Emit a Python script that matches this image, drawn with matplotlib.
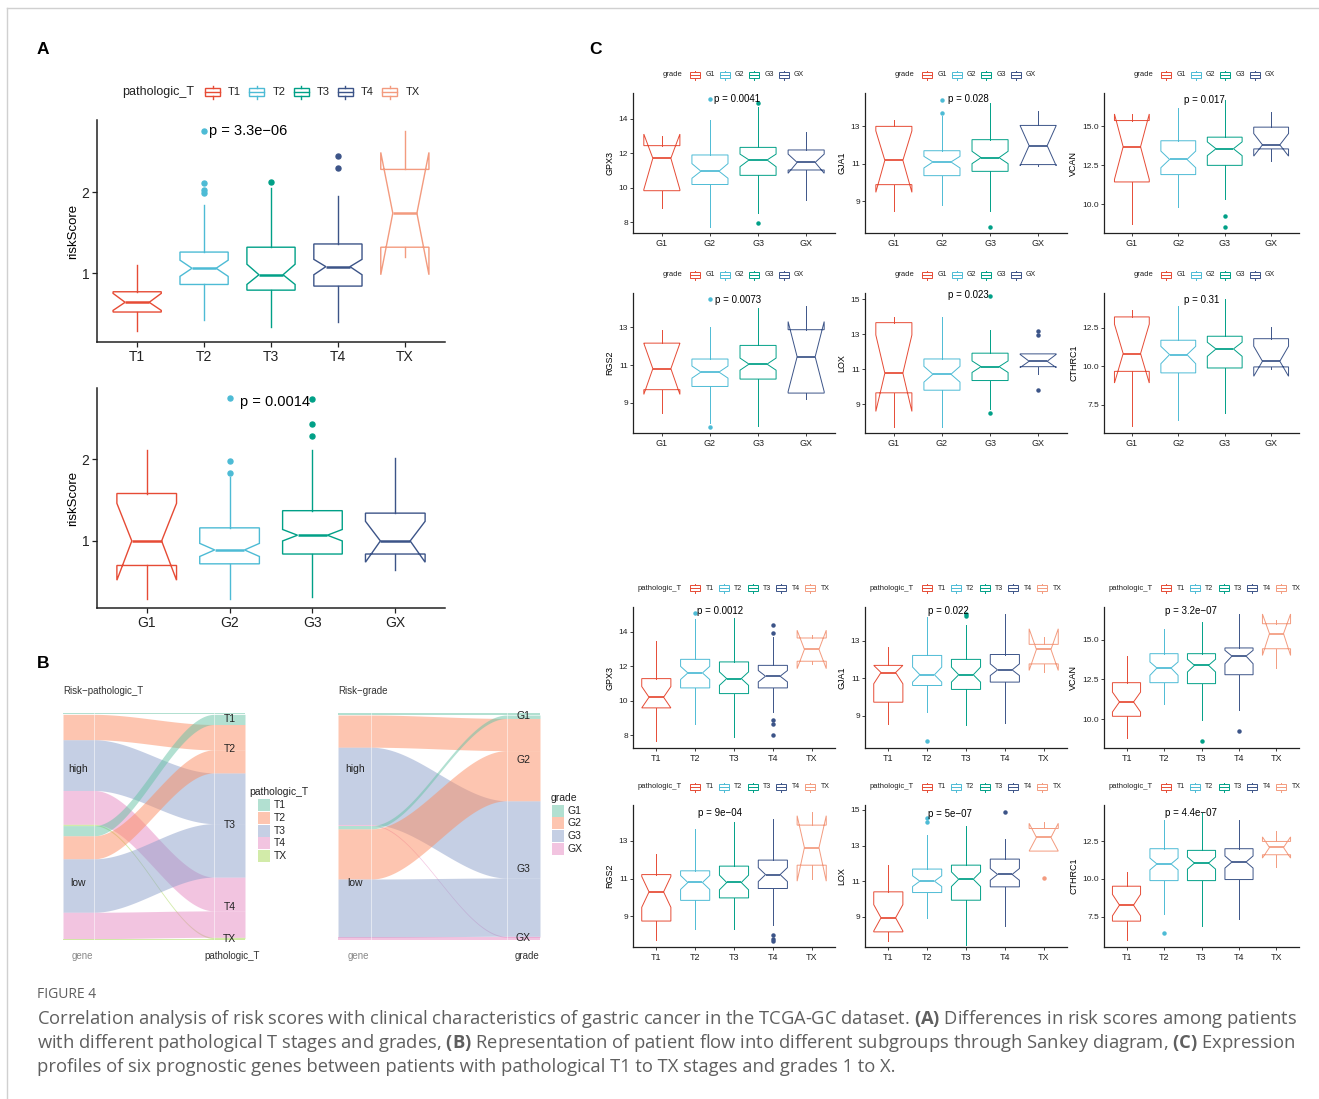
import numpy as np
import matplotlib
matplotlib.use('Agg')
import matplotlib.pyplot as plt
from matplotlib.patches import Rectangle

plt.rcParams['font.family'] = ['Liberation Sans', 'DejaVu Sans']
plt.rcParams['mathtext.fontset'] = 'custom'
plt.rcParams['mathtext.rm'] = 'Open Sans'
plt.rcParams['mathtext.bf'] = 'Open Sans:bold'

# ---------------- DATA ----------------
T_CATS = ['T1', 'T2', 'T3', 'T4', 'TX']
G_CATS = ['G1', 'G2', 'G3', 'GX']
NPG = ['#E64B35', '#4DBBD5', '#00A087', '#3C5488', '#F39B7F']
SET2 = ['#66C2A5', '#FC8D62', '#8DA0CB', '#E78AC3', '#A6D854']

# box stats per group: whislo, q1, median, q3, whishi, notch_lo, notch_hi
A_T_BOX = [[0.28, 0.52, 0.64, 0.77, 1.10, 0.54, 0.75],
           [0.42, 0.86, 1.06, 1.26, 1.84, 0.96, 1.16],
           [0.33, 0.79, 0.98, 1.32, 2.05, 0.86, 1.11],
           [0.40, 0.84, 1.08, 1.36, 1.95, 0.98, 1.17],
           [1.20, 1.32, 1.74, 2.28, 2.76, 0.98, 2.49]]
A_T_OUT = [[], [2.76, 2.11, 2.02, 1.99], [2.12], [2.44, 2.30], []]
A_T_P = 'p = 3.3e\u221206'

A_G_BOX = [[0.29, 0.70, 1.00, 1.58, 2.11, 0.52, 1.46],
           [0.29, 0.72, 0.89, 1.16, 1.78, 0.81, 0.97],
           [0.32, 0.84, 1.07, 1.37, 2.11, 1.00, 1.14],
           [0.65, 0.84, 1.00, 1.34, 2.01, 0.74, 1.24]]
A_G_OUT = [[], [2.75, 1.98, 1.83], [2.74, 2.43, 2.28], []]
A_G_P = 'p = 0.0014'

GPX3_G_BOX = [[8.81, 9.83, 11.71, 12.44, 13.00, 9.90, 13.11],
              [7.75, 10.19, 10.96, 11.90, 13.92, 10.55, 11.40],
              [8.52, 10.72, 11.61, 12.34, 14.70, 11.22, 11.95],
              [9.29, 11.03, 11.47, 12.19, 13.25, 10.84, 11.95]]
GPX3_G_OUT = [[], [15.14], [14.89, 7.96], []]
GJA1_G_BOX = [[8.46, 9.88, 11.18, 12.99, 13.31, 9.47, 12.75],
              [8.78, 10.36, 11.09, 11.69, 13.52, 10.77, 11.39],
              [8.46, 10.59, 11.32, 12.28, 14.24, 11.00, 11.66],
              [10.90, 10.95, 11.96, 13.04, 13.79, 10.89, 13.03]]
GJA1_G_OUT = [[], [14.41, 13.70], [7.60], []]
VCAN_G_BOX = [[8.75, 11.44, 13.69, 15.36, 15.78, 11.60, 15.78],
              [9.85, 11.91, 12.88, 14.07, 16.17, 12.35, 13.41],
              [10.34, 12.50, 13.56, 14.30, 16.69, 13.12, 14.00],
              [12.78, 13.55, 13.81, 14.94, 15.91, 13.09, 14.53]]
VCAN_G_OUT = [[], [], [9.28, 8.58], []]
RGS2_G_BOX = [[8.46, 9.70, 10.81, 12.16, 12.87, 9.45, 12.15],
              [7.93, 9.87, 10.63, 11.32, 12.99, 10.31, 10.95],
              [7.76, 10.26, 11.05, 12.04, 14.01, 10.73, 11.37],
              [9.20, 9.52, 11.44, 12.87, 14.14, 9.60, 13.30]]
RGS2_G_OUT = [[], [14.51, 7.72], [], []]
LOX_G_BOX = [[7.73, 9.66, 10.78, 13.66, 13.97, 8.60, 12.96],
             [7.70, 9.81, 10.72, 11.59, 13.97, 10.27, 11.17],
             [8.75, 10.36, 11.15, 11.92, 13.26, 10.82, 11.48],
             [10.72, 11.15, 11.46, 11.88, 11.88, 11.10, 11.85]]
LOX_G_OUT = [[], [], [15.20, 8.52], [13.20, 12.98, 9.81]]
CTHRC1_G_BOX = [[6.09, 9.67, 10.83, 13.22, 13.70, 8.91, 12.75],
                [6.52, 9.57, 10.76, 11.70, 13.91, 10.17, 11.30],
                [6.96, 9.89, 11.13, 11.96, 14.39, 10.65, 11.57],
                [9.80, 9.96, 10.33, 11.80, 12.54, 9.35, 11.31]]
CTHRC1_G_OUT = [[], [], [], []]

GPX3_T_BOX = [[7.65, 9.59, 10.21, 11.29, 13.46, 9.59, 10.83],
              [8.68, 10.75, 11.62, 12.41, 14.77, 11.24, 12.00],
              [7.90, 10.42, 11.29, 12.26, 14.81, 10.90, 11.68],
              [9.35, 10.75, 11.43, 12.06, 13.71, 11.10, 11.76],
              [12.16, 12.30, 12.99, 13.65, 13.84, 11.87, 14.10]]
GPX3_T_OUT = [[], [15.10], [], [14.43, 13.96, 8.87, 8.64, 8.00], []]
GJA1_T_BOX = [[8.56, 9.72, 11.30, 11.68, 12.65, 10.70, 11.68],
              [9.19, 10.61, 11.18, 12.21, 14.25, 10.79, 11.59],
              [8.48, 10.40, 11.18, 12.00, 13.84, 10.79, 11.59],
              [8.60, 10.79, 11.44, 12.26, 14.43, 11.14, 11.76],
              [11.32, 11.76, 12.53, 12.80, 13.19, 11.41, 13.63]]
GJA1_T_OUT = [[], [7.64], [14.43, 14.31], [], []]
VCAN_T_BOX = [[8.82, 10.18, 11.08, 12.29, 13.96, 10.45, 11.70],
              [10.97, 12.29, 13.21, 14.11, 15.68, 12.75, 13.59],
              [9.93, 12.23, 13.38, 14.11, 16.10, 12.96, 13.76],
              [10.55, 12.79, 13.96, 14.47, 16.62, 13.48, 14.32],
              [13.21, 14.42, 15.37, 15.99, 16.20, 14.00, 16.60]]
VCAN_T_OUT = [[], [], [8.63], [9.26], []]
RGS2_T_BOX = [[7.71, 8.74, 10.29, 11.21, 12.28, 9.47, 11.11],
              [8.33, 9.84, 10.79, 11.41, 13.63, 10.42, 11.16],
              [8.33, 9.97, 10.79, 11.66, 14.02, 10.40, 11.18],
              [8.51, 10.47, 11.21, 11.98, 14.15, 10.84, 11.58],
              [11.00, 11.71, 12.64, 13.84, 14.52, 10.86, 14.34]]
RGS2_T_OUT = [[], [], [], [7.98, 7.80, 7.68], []]
LOX_T_BOX = [[7.64, 8.15, 8.94, 10.40, 11.90, 8.20, 9.68],
             [8.94, 10.36, 11.00, 11.68, 13.59, 10.70, 11.30],
             [7.44, 9.93, 11.11, 11.90, 14.11, 10.70, 11.52],
             [8.49, 10.68, 11.38, 12.24, 13.35, 11.05, 11.71],
             [12.69, 12.69, 13.46, 13.96, 14.34, 12.69, 14.25]]
LOX_T_OUT = [[], [14.56, 14.30], [], [14.86], [11.15]]
CTHRC1_T_BOX = [[5.94, 7.21, 8.27, 9.52, 10.44, 7.56, 8.98],
                [7.65, 9.89, 10.99, 12.00, 13.90, 10.60, 11.38],
                [6.89, 9.89, 11.05, 11.89, 14.34, 10.65, 11.45],
                [7.32, 9.96, 11.12, 12.00, 13.90, 10.72, 11.52],
                [10.77, 11.60, 12.08, 12.48, 13.18, 11.38, 12.78]]
CTHRC1_T_OUT = [[], [6.45], [], [], []]

P_GRADE = ['p = 0.0041', 'p = 0.028', 'p = 0.017', 'p = 0.0073', 'p = 0.023', 'p = 0.31']
P_T = ['p = 0.0012', 'p = 0.022', 'p = 3.2e\u221207', 'p = 9e\u221204', 'p = 5e\u221207', 'p = 4.4e\u221207']
GENES = ['GPX3', 'GJA1', 'VCAN', 'RGS2', 'LOX', 'CTHRC1']

# Sankey counts (high risk / low risk)
SK_T_HIGH = [4, 75, 150, 100, 4]
SK_T_LOW = [30, 68, 158, 78, 4]
SK_G_HIGH = [6, 95, 228, 3]
SK_G_LOW = [10, 148, 172, 8]

CAPTION_L1 = (r'Correlation analysis of risk scores with clinical characteristics of gastric cancer in the '
              r'TCGA-GC dataset. $\mathbf{(A)}$ Differences in risk scores among patients')
CAPTION_L2 = (r'with different pathological T stages and grades, $\mathbf{(B)}$ Representation of patient flow '
              r'into different subgroups through Sankey diagram, $\mathbf{(C)}$ Expression')
CAPTION_L3 = 'profiles of six prognostic genes between patients with pathological T1 to TX stages and grades 1 to X.'

# ---------------- FIGURE ----------------
W, H = 1319, 1099
fig = plt.figure(figsize=(W / 100, H / 100), dpi=100)
ov = fig.add_axes([0, 0, 1, 1])
ov.set_xlim(0, W)
ov.set_ylim(H, 0)
ov.axis('off')


def pax(x0, y0, x1, y1):
    a = fig.add_axes([x0 / W, 1 - y1 / H, (x1 - x0) / W, (y1 - y0) / H])
    a.patch.set_alpha(0)
    return a


def box_panel(ax, cats, colors, box, outs, ylim, yticks, ytl, ylabel, ptxt, ppos, small):
    lw = 0.7 if small else 1.0
    ms = 2.2 if small else 3.6
    width = 0.75 if small else 0.72
    for i, (b, o, c) in enumerate(zip(box, outs, colors)):
        st = dict(whislo=b[0], q1=b[1], med=b[2], q3=b[3], whishi=b[4],
                  cilo=b[5], cihi=b[6], fliers=np.array(o, dtype=float))
        ax.bxp([st], positions=[i], widths=width, shownotches=True, showcaps=False,
               patch_artist=True, manage_ticks=False,
               boxprops=dict(facecolor='white', edgecolor=c, linewidth=lw),
               whiskerprops=dict(color=c, linewidth=lw),
               medianprops=dict(color=c, linewidth=lw * 1.8),
               flierprops=dict(marker='o', markerfacecolor=c, markeredgecolor=c,
                               markersize=ms, linestyle='none'))
    ax.set_xlim(-0.6, len(cats) - 0.4)
    ax.set_ylim(*ylim)
    ax.set_xticks(range(len(cats)))
    ax.set_xticklabels(cats)
    ax.set_yticks(yticks)
    ax.set_yticklabels(ytl)
    for s in ['top', 'right']:
        ax.spines[s].set_visible(False)
    for s in ['left', 'bottom']:
        ax.spines[s].set_linewidth(0.9 if small else 1.1)
        ax.spines[s].set_color('#222222')
    if small:
        ax.tick_params(axis='y', labelsize=6, length=2, width=0.6, pad=1.5, colors='#222222')
        ax.tick_params(axis='x', labelsize=6.5, length=2, width=0.6, pad=2, colors='#222222')
        ax.set_ylabel(ylabel, fontsize=6.5, labelpad=3)
        ax.text(ppos[0], ppos[1], ptxt, ha='center', va='center', fontsize=7)
    else:
        ax.tick_params(axis='both', labelsize=10, length=3.5, width=0.9, pad=2, colors='#222222')
        ax.set_ylabel(ylabel, fontsize=9.5, labelpad=2)
        ax.text(ppos[0], ppos[1], ptxt, ha='center', va='center', fontsize=10.5)


def box_legend(x_title, y, title, labels, colors, x_first, spacing, gw, gh, fs, tfs, lw):
    ov.text(x_title, y, title, fontsize=tfs, ha='left', va='center', color='#222222')
    for i, (lab, c) in enumerate(zip(labels, colors)):
        gx = x_first + i * spacing
        ov.add_patch(Rectangle((gx, y - gh * 0.3), gw, gh * 0.6, fill=False, ec=c, lw=lw))
        ov.plot([gx, gx + gw], [y, y], color=c, lw=lw)
        ov.plot([gx + gw / 2] * 2, [y - gh / 2, y - gh * 0.3], color=c, lw=lw)
        ov.plot([gx + gw / 2] * 2, [y + gh * 0.3, y + gh / 2], color=c, lw=lw)
        ov.text(gx + gw + gw * 0.55, y, lab, fontsize=fs, ha='left', va='center', color='#222222')


# ---------- Panel A ----------
ov.text(37, 50, 'A', fontsize=12.5, fontweight='bold', ha='left', va='center')
axA1 = pax(97, 120, 445, 342)
box_panel(axA1, T_CATS, NPG, A_T_BOX, A_T_OUT, (0.15, 2.89), [1, 2], ['1', '2'],
          'riskScore', A_T_P, (1.66, 2.76), False)
box_legend(122, 92, 'pathologic_T', T_CATS, NPG, 205, 44.3, 15, 13, 8, 9, 1.0)

axA2 = pax(97, 388, 445, 608)
box_panel(axA2, G_CATS, NPG[:4], A_G_BOX, A_G_OUT, (0.18, 2.87), [1, 2], ['1', '2'],
          'riskScore', A_G_P, (1.55, 2.70), False)

# ---------- Panel C ----------
ov.text(589, 50, 'C', fontsize=12.5, fontweight='bold', ha='left', va='center')
COL_X = [(633, 835), (865, 1067), (1104, 1299)]
ROW_Y = [(93, 233), (293, 433), (607, 748), (805, 947)]
LEG_Y = [75, 275, 588, 787]
grade_boxes = [GPX3_G_BOX, GJA1_G_BOX, VCAN_G_BOX, RGS2_G_BOX, LOX_G_BOX, CTHRC1_G_BOX]
grade_outs = [GPX3_G_OUT, GJA1_G_OUT, VCAN_G_OUT, RGS2_G_OUT, LOX_G_OUT, CTHRC1_G_OUT]
t_boxes = [GPX3_T_BOX, GJA1_T_BOX, VCAN_T_BOX, RGS2_T_BOX, LOX_T_BOX, CTHRC1_T_BOX]
t_outs = [GPX3_T_OUT, GJA1_T_OUT, VCAN_T_OUT, RGS2_T_OUT, LOX_T_OUT, CTHRC1_T_OUT]
ylims_g = [(7.38, 15.49), (7.30, 14.77), (8.18, 17.12), (7.41, 14.81), (7.37, 15.35), (5.65, 14.78)]
ylims_t = [(7.26, 15.45), (7.28, 14.79), (8.19, 17.04), (7.36, 14.91), (7.30, 15.28), (5.50, 14.89)]
yt = [[8, 10, 12, 14], [9, 11, 13], [10, 12.5, 15], [9, 11, 13], [9, 11, 13, 15], [7.5, 10, 12.5]]
ytl = [['8', '10', '12', '14'], ['9', '11', '13'], ['10.0', '12.5', '15.0'], ['9', '11', '13'],
       ['9', '11', '13', '15'], ['7.5', '10.0', '12.5']]
ppos_g = [(1.56, 15.12), (1.55, 14.45), (1.56, 16.7), (1.59, 14.45), (1.55, 15.22), (1.50, 14.35)]
ppos_t = [(1.65, 15.2), (1.55, 14.56), (1.71, 16.77), (1.63, 14.47), (1.59, 14.75), (1.71, 14.34)]

for k in range(6):
    r, c = divmod(k, 3)
    x0, x1 = COL_X[c]
    y0, y1 = ROW_Y[r]
    ax = pax(x0, y0, x1, y1)
    box_panel(ax, G_CATS, NPG[:4], grade_boxes[k], grade_outs[k], ylims_g[k], yt[k], ytl[k],
              GENES[k], P_GRADE[k], ppos_g[k], True)
    box_legend(x0 + 30, LEG_Y[r], 'grade', G_CATS, NPG[:4], x0 + 57, 29.5, 10, 9, 5, 5.5, 0.7)
    y0, y1 = ROW_Y[r + 2]
    ax = pax(x0, y0, x1, y1)
    box_panel(ax, T_CATS, NPG, t_boxes[k], t_outs[k], ylims_t[k], yt[k], ytl[k],
              GENES[k], P_T[k], ppos_t[k], True)
    box_legend(x0 + 5, LEG_Y[r + 2], 'pathologic_T', T_CATS, NPG, x0 + 57, 28.8, 10, 9, 5, 5.5, 0.7)


# ---------- Panel B (Sankey) ----------
def sankey(ax, cats, colors, hi, lo, cw):
    groups = [hi, lo]
    total = sum(hi) + sum(lo)
    left, right = {}, {}
    y = 0
    for g, vals in enumerate(groups):
        for i, v in enumerate(vals):
            left[(g, i)] = (y, y + v)
            y += v
    y = 0
    for i in range(len(cats)):
        for g in range(2):
            v = groups[g][i]
            right[(g, i)] = (y, y + v)
            y += v
    xs = np.linspace(0, 1, 200)
    t = np.clip((xs - cw) / (1 - 2 * cw), 0, 1)
    s = t * t * (3 - 2 * t)
    for (g, i), (l0, l1) in left.items():
        if l1 - l0 <= 0:
            continue
        r0, r1 = right[(g, i)]
        top = l0 + (r0 - l0) * s
        bot = l1 + (r1 - l1) * s
        ax.fill_between(xs, top, bot, color=colors[i], alpha=0.5, lw=0)
    # faint stratum outlines
    ax.plot([cw, cw], [0, total], color='white', lw=0.6, alpha=0.6)
    ax.plot([1 - cw, 1 - cw], [0, total], color='white', lw=0.6, alpha=0.6)
    y = 0
    for i in range(len(cats)):
        tot = hi[i] + lo[i]
        ax.text(1 - cw / 2, y + tot / 2, cats[i], ha='center', va='center', fontsize=7.5, color='#222222')
        y += tot
    ax.text(cw / 2, sum(hi) / 2, 'high', ha='center', va='center', fontsize=7.5, color='#222222')
    ax.text(cw / 2, sum(hi) + sum(lo) / 2, 'low', ha='center', va='center', fontsize=7.5, color='#222222')
    ax.set_xlim(0, 1)
    ax.set_ylim(total, 0)
    ax.axis('off')


ov.text(37, 664, 'B', fontsize=12.5, fontweight='bold', ha='left', va='center')
axB1 = pax(63, 713, 245, 940)
sankey(axB1, T_CATS, SET2, SK_T_HIGH, SK_T_LOW, 0.17)
axB2 = pax(338, 713, 540, 940)
sankey(axB2, G_CATS, SET2[:4], SK_G_HIGH, SK_G_LOW, 0.165)

ov.text(63, 691, 'Risk\u2212pathologic_T', fontsize=7, ha='left', va='center', color='#333333')
ov.text(338, 691, 'Risk\u2212grade', fontsize=7, ha='left', va='center', color='#333333')
ov.text(82, 956, 'gene', fontsize=7, ha='center', va='center', color='#888888')
ov.text(232, 956, 'pathologic_T', fontsize=7, ha='center', va='center', color='#333333')
ov.text(358, 956, 'gene', fontsize=7, ha='center', va='center', color='#888888')
ov.text(527, 956, 'grade', fontsize=7, ha='center', va='center', color='#333333')


def fill_legend(x_title, y_title, title, labels, colors, x_sw, y0, step, sw):
    ov.text(x_title, y_title, title, fontsize=7.5, ha='left', va='center', color='#222222')
    for i, (lab, c) in enumerate(zip(labels, colors)):
        yy = y0 + i * step
        ov.add_patch(Rectangle((x_sw, yy - sw / 2), sw, sw, fc=c, alpha=0.5, lw=0))
        ov.text(x_sw + sw + 4, yy, lab, fontsize=7.5, ha='left', va='center', color='#222222')


fill_legend(249, 792, 'pathologic_T', T_CATS, SET2, 258, 805, 12.75, 12)
fill_legend(551, 798, 'grade', G_CATS, SET2[:4], 552, 810.5, 12.9, 12)

# ---------- Caption & frame ----------
ov.plot([7, W], [8, 8], color='#d0d0d0', lw=1)
ov.plot([7, 7], [8, H], color='#d0d0d0', lw=1)
CAP = '#5f5f5f'
ov.text(37, 995, 'FIGURE 4', fontsize=10, color=CAP, ha='left', va='center', family='Open Sans')
renderer = fig.canvas.get_renderer()
t1 = ov.text(37, 1019, CAPTION_L1, fontsize=12, color=CAP, ha='left', va='center', family='Open Sans')
wid = t1.get_window_extent(renderer).width
fs = 12 * 1260 / wid
t1.set_fontsize(fs)
ov.text(37, 1043, CAPTION_L2, fontsize=fs, color=CAP, ha='left', va='center', family='Open Sans')
ov.text(37, 1067, CAPTION_L3, fontsize=fs, color=CAP, ha='left', va='center', family='Open Sans')

fig.savefig('out.png', dpi=100)
